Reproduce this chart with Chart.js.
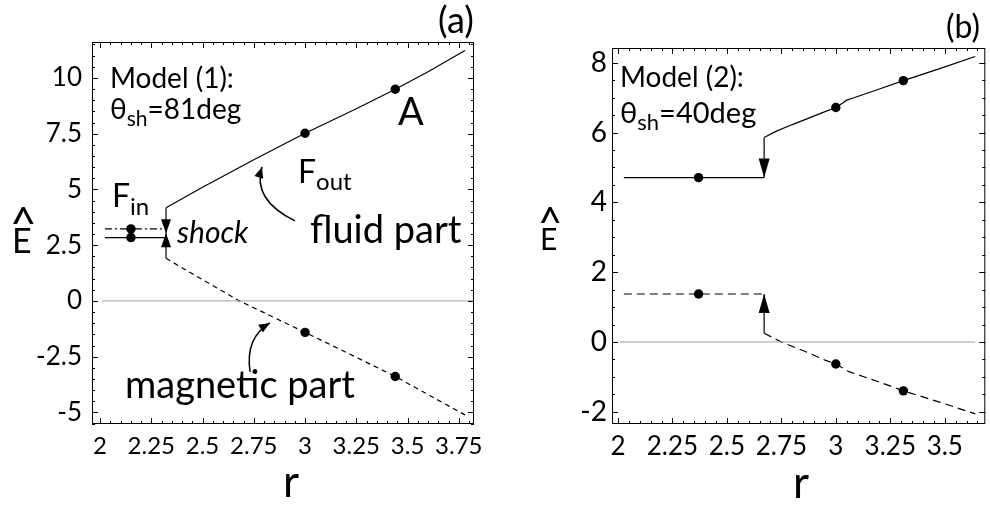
<!DOCTYPE html>
<html>
<head>
<meta charset="utf-8">
<script src="https://cdn.jsdelivr.net/npm/chart.js@4.4.1/dist/chart.umd.min.js"></script>
<style>
  html, body { margin: 0; padding: 0; background: #fff; }
  #wrap { position: relative; width: 990px; height: 506px; overflow: hidden; }
  .panel { position: absolute; top: 0; height: 506px; }
  #pa { left: 0; width: 500px; }
  #pb { left: 500px; width: 490px; }
</style>
</head>
<body>
<div id="wrap">
  <div class="panel" id="pa"><canvas id="chartA" width="500" height="506"></canvas></div>
  <div class="panel" id="pb"><canvas id="chartB" width="490" height="506"></canvas></div>
</div>
<script>
// ---- panel (a): Model (1), theta_sh = 81 deg ----
const xTicksA = [2, 2.25, 2.5, 2.75, 3, 3.25, 3.5, 3.75];
const yTicksA = [-5, -2.5, 0, 2.5, 5, 7.5, 10];
const zeroA = [[2.01, 0], [3.82, 0]];
const fluidInA = [[2.024, 2.84], [2.322, 2.84]];
const magInA = [[2.024, 3.23], [2.322, 3.23]];
const shockA = [[2.322, 1.91], [2.322, 4.18]];
const fluidOutA = [[2.322, 4.18], [2.5, 5.1], [2.75, 6.33], [3.0, 7.52], [3.25, 8.62], [3.44, 9.49], [3.6, 10.28], [3.78, 11.23]];
const magOutA = [[2.322, 1.91], [2.5, 0.95], [2.68, 0], [2.85, -0.75], [3.0, -1.41], [3.25, -2.53], [3.44, -3.39], [3.6, -4.2], [3.78, -5.11]];
const markersA = [[2.151, 3.23], [2.151, 2.84], [3.0, 7.52], [3.44, 9.49], [3.0, -1.41], [3.44, -3.39]];

// ---- panel (b): Model (2), theta_sh = 40 deg ----
const xTicksB = [2, 2.25, 2.5, 2.75, 3, 3.25, 3.5];
const yTicksB = [-2, 0, 2, 4, 6, 8];
const zeroB = [[2.01, 0], [3.64, 0]];
const fluidInB = [[2.027, 4.71], [2.671, 4.71]];
const magInB = [[2.027, 1.375], [2.671, 1.375]];
const shockUpB = [[2.671, 4.71], [2.671, 5.86]];
const shockLoB = [[2.671, 0.25], [2.671, 1.375]];
const fluidOutB = [[2.671, 5.86], [2.72, 6.02], [2.8, 6.23], [2.87, 6.4], [2.93, 6.55], [3.0, 6.72], [3.03, 6.84], [3.05, 6.93], [3.08, 6.99], [3.2, 7.25], [3.31, 7.49], [3.48, 7.84], [3.64, 8.18]];
const magOutB = [[2.671, 0.25], [2.75, 0.0], [2.87, -0.3], [2.95, -0.52], [3.0, -0.63], [3.03, -0.74], [3.06, -0.85], [3.2, -1.15], [3.31, -1.4], [3.48, -1.73], [3.64, -2.06]];
const markersB = [[2.37, 4.71], [2.37, 1.375], [3.0, 6.72], [3.31, 7.49], [3.0, -0.63], [3.31, -1.4]];

const FONT = "Lato";
Chart.defaults.font.family = FONT;
Chart.defaults.color = "#000";

const pts = (arr) => arr.map((p) => ({ x: p[0], y: p[1] }));

function line(data, dash, color, width) {
  return {
    data: pts(data),
    showLine: true,
    borderColor: color || "#000",
    borderWidth: width || 1.2,
    borderDash: dash || [],
    pointRadius: 0,
    fill: false,
  };
}

function markers(data) {
  return {
    data: pts(data),
    showLine: false,
    pointRadius: 4.7,
    pointBackgroundColor: "#000",
    pointBorderColor: "#000",
    pointBorderWidth: 0,
  };
}

function drawHead(ctx, x, y, ang, len, half) {
  const c = Math.cos(ang), s = Math.sin(ang);
  ctx.beginPath();
  ctx.moveTo(x, y);
  ctx.lineTo(x - len * c - half * s, y - len * s + half * c);
  ctx.lineTo(x - len * c + half * s, y - len * s - half * c);
  ctx.closePath();
  ctx.fill();
}

function drawSegs(ctx, segs, x, y) {
  let cx = x;
  segs.forEach((s) => {
    ctx.font = s.f;
    ctx.fillText(s.t, cx, y + (s.dy || 0));
    cx += ctx.measureText(s.t).width + (s.gap || 0);
  });
}

// frame, inward ticks, arrows and labels
const deco = {
  id: "deco",
  afterDatasetsDraw(chart, args, o) {
    const { ctx, chartArea: a } = chart;
    const xs = chart.scales.x, ys = chart.scales.y;
    ctx.save();
    ctx.strokeStyle = "#000";
    ctx.fillStyle = "#000";
    ctx.lineWidth = 1;
    ctx.strokeRect(a.left + 0.5, a.top + 0.5, a.right - a.left - 1, a.bottom - a.top - 1);

    // minor + major ticks on all four sides
    ctx.beginPath();
    for (let k = Math.ceil(xs.min / o.xMinor); k * o.xMinor <= xs.max; k++) {
      const v = k * o.xMinor;
      const px = Math.round(xs.getPixelForValue(v)) + 0.5;
      const major = xs.ticks.some((t) => Math.abs(t.value - v) < 1e-6);
      const len = major ? 6 : 3;
      ctx.moveTo(px, a.bottom); ctx.lineTo(px, a.bottom - len);
      ctx.moveTo(px, a.top); ctx.lineTo(px, a.top + len);
    }
    for (let k = Math.ceil(ys.min / o.yMinor); k * o.yMinor <= ys.max; k++) {
      const v = k * o.yMinor;
      const py = Math.round(ys.getPixelForValue(v)) + 0.5;
      const major = ys.ticks.some((t) => Math.abs(t.value - v) < 1e-6);
      const len = major ? 6 : 3;
      ctx.moveTo(a.left, py); ctx.lineTo(a.left + len, py);
      ctx.moveTo(a.right, py); ctx.lineTo(a.right - len, py);
    }
    ctx.stroke();

    // shock arrow heads
    o.heads.forEach((h) => {
      const px = xs.getPixelForValue(h.r), py = ys.getPixelForValue(h.e);
      drawHead(ctx, px, py, h.down ? Math.PI / 2 : -Math.PI / 2, h.len, h.half);
    });

    // curved pointer arrows
    (o.curves || []).forEach((c) => {
      const p0 = [xs.getPixelForValue(c.from[0]), ys.getPixelForValue(c.from[1])];
      const p1 = [xs.getPixelForValue(c.ctrl[0]), ys.getPixelForValue(c.ctrl[1])];
      const p2 = [xs.getPixelForValue(c.to[0]), ys.getPixelForValue(c.to[1])];
      ctx.lineWidth = 1.5;
      ctx.beginPath();
      ctx.moveTo(p0[0], p0[1]);
      ctx.quadraticCurveTo(p1[0], p1[1], p2[0], p2[1]);
      ctx.stroke();
      drawHead(ctx, p2[0], p2[1], Math.atan2(p2[1] - p1[1], p2[0] - p1[0]), 11, 4.5);
    });

    // text labels
    ctx.textBaseline = "alphabetic";
    ctx.textAlign = "left";
    o.texts.forEach((t) => drawSegs(ctx, t.segs, t.x, t.y));
    ctx.restore();
  },
};

function makeChart(id, cfg) {
  return new Chart(document.getElementById(id), {
    type: "scatter",
    data: { datasets: cfg.datasets },
    plugins: [deco],
    options: {
      responsive: false,
      animation: false,
      events: [],
      layout: { padding: cfg.padding },
      plugins: {
        legend: { display: false },
        tooltip: { enabled: false },
        deco: cfg.deco,
      },
      scales: {
        x: {
          type: "linear",
          min: cfg.xRange[0],
          max: cfg.xRange[1],
          grid: { display: false, drawTicks: false },
          border: { display: false },
          afterBuildTicks: (s) => { s.ticks = cfg.xTicks.map((v) => ({ value: v })); },
          afterFit: (s) => { s.height = cfg.xAxisH; },
          ticks: {
            autoSkip: false,
            maxRotation: 0,
            padding: cfg.xPad,
            font: { size: cfg.xFont },
            callback: (v) => String(v),
          },
        },
        y: {
          type: "linear",
          min: cfg.yRange[0],
          max: cfg.yRange[1],
          grid: { display: false, drawTicks: false },
          border: { display: false },
          afterBuildTicks: (s) => { s.ticks = cfg.yTicks.map((v) => ({ value: v })); },
          afterFit: (s) => { s.width = cfg.yAxisW; },
          ticks: {
            autoSkip: false,
            padding: cfg.yPad,
            font: { size: cfg.yFont },
            callback: (v) => String(v),
          },
        },
      },
    },
  });
}

const F = (size, style) => (style ? style + " " : "") + size + "px " + FONT;

makeChart("chartA", {
  xRange: [1.961, 3.824],
  yRange: [-5.52, 11.61],
  xTicks: xTicksA,
  yTicks: yTicksA,
  xAxisH: 82,
  yAxisW: 92,
  xPad: 8,
  yPad: 10,
  xFont: 24,
  yFont: 26,
  padding: { left: 0, right: 26, top: 42, bottom: 0 },
  datasets: [
    line(zeroA, [], "#a0a0a0", 1),
    line(fluidOutA),
    line(magOutA, [5, 4]),
    line(fluidInA),
    line(magInA, [7, 3, 2, 3]),
    line(shockA),
    markers(markersA),
  ],
  deco: {
    xMinor: 0.05,
    yMinor: 0.5,
    heads: [
      { r: 2.322, e: 3.03, down: true, len: 14, half: 5 },
      { r: 2.322, e: 3.03, down: false, len: 14, half: 5 },
    ],
    curves: [
      { from: [2.951, 3.59], ctrl: [2.741, 4.53], to: [2.79, 6.01] },
      { from: [2.732, -3.18], ctrl: [2.707, -1.66], to: [2.829, -0.99] },
    ],
    texts: [
      { x: 438, y: 33, segs: [{ t: "(a)", f: F(36) }] },
      { x: 110, y: 88, segs: [{ t: "Model (1):", f: F(28) }] },
      { x: 110, y: 119, segs: [{ t: "θ", f: F(28) }, { t: "sh", f: F(21), dy: 7 }, { t: "=81deg", f: F(28) }] },
      { x: 398, y: 125, segs: [{ t: "A", f: F(38) }] },
      { x: 298, y: 183, segs: [{ t: "F", f: F(32) }, { t: "out", f: F(24), dy: 7 }] },
      { x: 112, y: 207, segs: [{ t: "F", f: F(32) }, { t: "in", f: F(24), dy: 8 }] },
      { x: 177, y: 243, segs: [{ t: "shock", f: F(30, "italic") }] },
      { x: 310, y: 243, segs: [{ t: "fluid part", f: F(38) }] },
      { x: 125, y: 398, segs: [{ t: "magnetic part", f: F(38) }] },
      { x: 12, y: 253, segs: [{ t: "E", f: F(34) }] },
      { x: 10, y: 240, segs: [{ t: "^", f: F(46) }] },
      { x: 283, y: 497, segs: [{ t: "r", f: F(44) }] },
    ],
  },
});

makeChart("chartB", {
  xRange: [1.9727, 3.686],
  yRange: [-2.35, 8.424],
  xTicks: xTicksB,
  yTicks: yTicksB,
  xAxisH: 82,
  yAxisW: 112,
  xPad: 7,
  yPad: 5,
  xFont: 26,
  yFont: 28,
  padding: { left: 0, right: 1, top: 48, bottom: 0 },
  datasets: [
    line(zeroB, [], "#a0a0a0", 1),
    line(fluidOutB),
    line(magOutB, [8, 5]),
    line(fluidInB),
    line(magInB, [8, 5]),
    line(shockUpB),
    line(shockLoB),
    markers(markersB),
  ],
  deco: {
    xMinor: 0.05,
    yMinor: 0.5,
    heads: [
      { r: 2.671, e: 4.71, down: true, len: 19, half: 5.5 },
      { r: 2.671, e: 1.375, down: false, len: 19, half: 5.5 },
    ],
    curves: [],
    texts: [
      { x: 446, y: 38, segs: [{ t: "(b)", f: F(32) }] },
      { x: 120, y: 87, segs: [{ t: "Model (2):", f: F(28) }] },
      { x: 120, y: 123, segs: [{ t: "θ", f: F(29) }, { t: "sh", f: F(22), dy: 7 }, { t: "=40deg", f: F(29) }] },
      { x: 40, y: 250, segs: [{ t: "E", f: F(30) }] },
      { x: 38, y: 238, segs: [{ t: "^", f: F(42) }] },
      { x: 293, y: 498, segs: [{ t: "r", f: F(44) }] },
    ],
  },
});
</script>
</body>
</html>
